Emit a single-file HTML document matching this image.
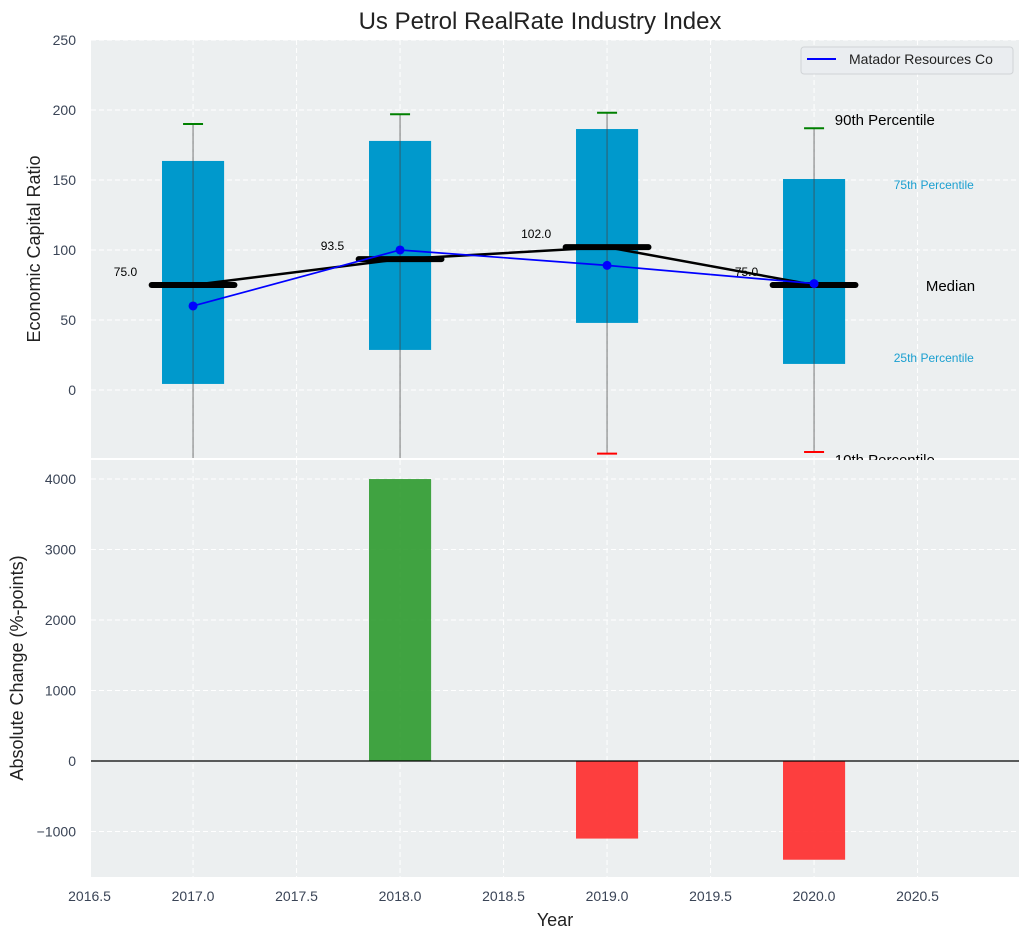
<!DOCTYPE html>
<html><head><meta charset="utf-8"><style>
body{margin:0;background:#fff;font-family:"Liberation Sans",sans-serif}
svg text{font-family:"Liberation Sans",sans-serif}
</style></head><body>
<svg id="c" width="1029" height="940" xmlns="http://www.w3.org/2000/svg"></svg>
<script>
const years=[2017,2018,2019,2020];
const p10=[-60,-60,-45.5,-44.3];
const p25=[4.3,28.6,47.9,18.6];
const p50=[75,93.5,102,75];
const p75=[163.6,177.9,186.4,150.7];
const p90=[190,197,198,187];
const company=[60,100,89,76];
const changes=[0,4000,-1100,-1400];
const xTicks=[2016.5,2017,2017.5,2018,2018.5,2019,2019.5,2020,2020.5];
const yTopTicks=[0,50,100,150,200,250];
const yBotTicks=[-1000,0,1000,2000,3000,4000];

const svg=document.getElementById('c');const NS='http://www.w3.org/2000/svg';
function mk(tag,attrs,parent,name,inter){const e=document.createElementNS(NS,tag);for(const k in attrs)e.setAttribute(k,attrs[k]);


(parent||svg).appendChild(e);return e;}
function txt(s,attrs,name,parent){const e=mk('text',attrs,parent,name,false);e.textContent=s;return e;}
const L=91,R=1019,xmin=2016.507,xmax=2020.99;
const X=v=>L+(v-xmin)/(xmax-xmin)*(R-L);
const T1=40,B1=458,ymin1=-48.6,ymax1=250;
const Y1=v=>B1-(v-ymin1)/(ymax1-ymin1)*(B1-T1);
const T2=460,B2=877,ymin2=-1645,ymax2=4270;
const Y2=v=>B2-(v-ymin2)/(ymax2-ymin2)*(B2-T2);
const bg='#eceff0';
const defs=mk('defs',{},svg,'defs',false);
const cp1=mk('clipPath',{id:'cp1'},defs,'clip-top',false);mk('rect',{x:L,y:T1,width:R-L,height:B1-T1},cp1,'clip-rect',false);
const cp2=mk('clipPath',{id:'cp2'},defs,'clip-bottom',false);mk('rect',{x:L,y:T2,width:R-L,height:B2-T2},cp2,'clip-rect',false);
mk('rect',{x:L,y:T1,width:R-L,height:B1-T1,fill:bg},svg,'top-plot-area',false);
const g1=mk('g',{'clip-path':'url(#cp1)'},svg,'top-plot',false);
xTicks.forEach(t=>mk('line',{x1:X(t),x2:X(t),y1:T1,y2:B1,stroke:'#fff','stroke-dasharray':'5,3'},g1,'x-grid',false));
yTopTicks.forEach(t=>{mk('line',{x1:L,x2:R,y1:Y1(t),y2:Y1(t),stroke:'#fff','stroke-dasharray':'5,3'},g1,'y-grid',false);
txt(String(t),{x:L-15,y:Y1(t)+5,'text-anchor':'end','font-size':14,fill:'#3a4456'},'y-tick-label');});
const bw=0.3;
years.forEach((yr,i)=>{
mk('rect',{x:X(yr-bw/2),y:Y1(p75[i]),width:X(yr+bw/2)-X(yr-bw/2),height:Y1(p25[i])-Y1(p75[i]),fill:'#0099cc'},g1,'box-'+yr,false);
mk('line',{x1:X(yr),x2:X(yr),y1:Y1(p10[i]),y2:Y1(p90[i]),stroke:'#444',"stroke-opacity":0.6,'stroke-width':1.2},g1,'whisker-'+yr,false);
mk('line',{x1:X(yr)-10,x2:X(yr)+10,y1:Y1(p90[i]),y2:Y1(p90[i]),stroke:'green','stroke-width':2},g1,'p90-cap-'+yr,false);
mk('line',{x1:X(yr)-10,x2:X(yr)+10,y1:Y1(p10[i]),y2:Y1(p10[i]),stroke:'red','stroke-width':2},g1,'p10-cap-'+yr,false);
});
mk('polyline',{points:years.map((y,i)=>X(y)+','+Y1(p50[i])).join(' '),fill:'none',stroke:'#000','stroke-width':2.5},g1,'median-line',false);
years.forEach((yr,i)=>{
mk('line',{x1:X(yr-0.2),x2:X(yr+0.2),y1:Y1(p50[i]),y2:Y1(p50[i]),stroke:'#000','stroke-width':6,'stroke-linecap':'round'},g1,'median-bar-'+yr,false);
txt(p50[i].toFixed(1),{x:X(yr-0.27),y:Y1(p50[i])-9,'text-anchor':'end','font-size':12,fill:'#000'},'median-label-'+yr,g1);
});
mk('polyline',{points:years.map((y,i)=>X(y)+','+Y1(company[i])).join(' '),fill:'none',stroke:'blue','stroke-width':1.7},g1,'company-line',false);
years.forEach((yr,i)=>mk('circle',{cx:X(yr),cy:Y1(company[i]),r:4.5,fill:'blue'},g1,'company-point-'+yr,false));
const li=years.length-1,lx=years[li];
txt('90th Percentile',{x:X(lx+0.1),y:Y1(p90[li])-3,'font-size':15,fill:'#000'},'label-90th');
txt('75th Percentile',{x:X(lx+0.385),y:Y1(p75[li])+10,'font-size':12,fill:'#1a9fd0'},'label-75th');
txt('Median',{x:X(lx+0.54),y:Y1(p50[li])+6,'font-size':15,fill:'#000'},'label-median');
txt('25th Percentile',{x:X(lx+0.385),y:Y1(p25[li])-2,'font-size':12,fill:'#1a9fd0'},'label-25th');
txt('10th Percentile',{x:X(lx+0.1),y:Y1(p10[li])+13,'font-size':15,fill:'#000'},'label-10th');
const lg=mk('g',{},svg,'legend',false);
mk('rect',{x:801,y:47,width:212,height:27,rx:3,fill:'#eaedf0',stroke:'#d0d3d6'},lg,'legend-box',false);
mk('line',{x1:807,x2:836,y1:59,y2:59,stroke:'blue','stroke-width':2},lg,'legend-swatch',false);
txt('Matador Resources Co',{x:849,y:64,'font-size':14,fill:'#222'},'legend-label',lg);
txt('Us Petrol RealRate Industry Index',{x:540,y:29,'text-anchor':'middle','font-size':24,fill:'#222'},'chart-title');
txt('Economic Capital Ratio',{transform:'translate(40,249) rotate(-90)','text-anchor':'middle','font-size':18,fill:'#222'},'top-y-axis-title');
mk('rect',{x:L,y:T2,width:R-L,height:B2-T2,fill:bg},svg,'bottom-plot-area',false);
const g2=mk('g',{'clip-path':'url(#cp2)'},svg,'bottom-plot',false);
xTicks.forEach(t=>{mk('line',{x1:X(t),x2:X(t),y1:T2,y2:B2,stroke:'#fff','stroke-dasharray':'5,3'},g2,'x-grid',false);
txt(t.toFixed(1),{x:X(t),y:B2+24,'text-anchor':'middle','font-size':14,fill:'#3a4456'},'x-tick-label');});
yBotTicks.forEach(t=>{mk('line',{x1:L,x2:R,y1:Y2(t),y2:Y2(t),stroke:'#fff','stroke-dasharray':'5,3'},g2,'y-grid',false);
txt(t<0?'\u2212'+Math.abs(t):String(t),{x:L-15,y:Y2(t)+5,'text-anchor':'end','font-size':14,fill:'#3a4456'},'y-tick-label');});
years.forEach((yr,i)=>{const v=changes[i];if(!v)return;
mk('rect',{x:X(yr-bw/2),y:Math.min(Y2(v),Y2(0)),width:X(yr+bw/2)-X(yr-bw/2),height:Math.abs(Y2(v)-Y2(0)),fill:v>0?'#2e9a2e':'#ff2a2a','fill-opacity':0.9},g2,'change-bar-'+yr,false);});
mk('line',{x1:L,x2:R,y1:Y2(0),y2:Y2(0),stroke:'#000','stroke-width':1.2},g2,'zero-line',false);
txt('Absolute Change (%-points)',{transform:'translate(23,668) rotate(-90)','text-anchor':'middle','font-size':18,fill:'#222'},'bottom-y-axis-title');
txt('Year',{x:555,y:926,'text-anchor':'middle','font-size':18,fill:'#222'},'x-axis-title');
</script>
</body></html>
